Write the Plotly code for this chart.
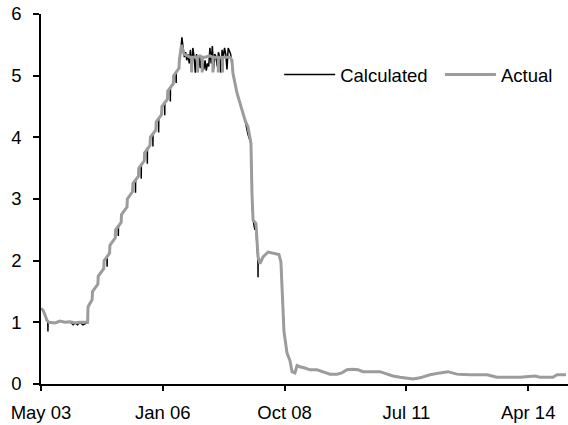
import plotly.graph_objects as go

# ---- data ----
actual_dates = [
    "2003-05-01", "2003-05-17", "2003-06-03", "2003-06-19", "2003-07-06", "2003-08-24",
    "2003-10-04", "2003-11-14", "2003-12-25", "2004-02-04", "2004-03-16", "2004-05-18",
    "2004-05-21", "2004-06-24", "2004-06-27", "2004-08-10", "2004-08-13", "2004-09-27",
    "2004-09-30", "2004-11-14", "2004-11-17", "2004-12-31", "2005-01-03", "2005-02-17",
    "2005-02-20", "2005-04-06", "2005-04-09", "2005-05-22", "2005-05-25", "2005-07-09",
    "2005-07-12", "2005-08-26", "2005-08-29", "2005-10-12", "2005-10-15", "2005-11-29",
    "2005-12-02", "2006-01-15", "2006-01-18", "2006-03-04", "2006-03-07", "2006-04-21",
    "2006-04-24", "2006-06-07", "2006-06-10", "2006-06-28", "2006-07-18", "2006-08-12",
    "2006-09-05", "2006-09-18", "2006-09-19", "2006-09-20", "2006-10-16", "2006-11-06",
    "2006-11-07", "2006-11-08", "2006-11-26", "2006-12-14", "2006-12-15", "2006-12-16",
    "2007-01-06", "2007-02-16", "2007-03-12", "2007-03-13", "2007-03-14", "2007-03-30",
    "2007-04-25", "2007-04-26", "2007-04-27", "2007-05-10", "2007-05-29", "2007-05-30",
    "2007-05-31", "2007-06-20", "2007-07-31", "2007-08-16", "2007-08-24", "2007-09-26",
    "2007-10-21", "2007-12-01", "2007-12-25", "2008-01-19", "2008-01-27", "2008-02-05",
    "2008-02-29", "2008-03-08", "2008-03-17", "2008-04-02", "2008-04-27", "2008-06-07",
    "2008-08-03", "2008-09-05", "2008-09-21", "2008-10-08", "2008-10-16", "2008-11-10",
    "2008-12-04", "2008-12-21", "2009-01-14", "2009-01-31", "2009-02-24", "2009-04-06",
    "2009-05-17", "2009-07-14", "2009-09-01", "2009-10-29", "2009-12-25", "2010-02-04",
    "2010-03-17", "2010-04-27", "2010-06-16", "2010-07-27", "2010-12-13", "2011-02-09",
    "2011-03-30", "2011-05-26", "2011-07-23", "2011-09-10", "2011-11-07", "2012-01-03",
    "2012-01-28", "2012-04-19", "2012-06-23", "2012-09-05", "2012-12-21", "2013-05-10",
    "2013-07-31", "2013-10-21", "2014-02-05", "2014-06-08", "2014-07-19", "2014-11-02",
    "2014-12-05", "2015-02-17",
]
actual_values = [
    1.22, 1.20, 1.12, 1.03, 1.00, 0.99,
    1.02, 1.00, 1.01, 0.99, 1.00, 1.00,
    1.25, 1.37, 1.50, 1.62, 1.75, 1.87,
    2.00, 2.12, 2.25, 2.37, 2.50, 2.62,
    2.75, 2.87, 3.00, 3.12, 3.25, 3.37,
    3.50, 3.62, 3.75, 3.87, 4.00, 4.12,
    4.25, 4.37, 4.50, 4.62, 4.75, 4.87,
    5.00, 5.12, 5.25, 5.50, 5.35, 5.32,
    5.30, 5.30, 5.05, 5.30, 5.30, 5.31,
    5.05, 5.31, 5.32, 5.30, 5.05, 5.30,
    5.30, 5.32, 5.30, 5.05, 5.30, 5.30,
    5.30, 5.05, 5.30, 5.30, 5.30, 5.05,
    5.30, 5.30, 5.30, 5.25, 5.04, 4.72,
    4.55, 4.28, 4.17, 3.90, 3.10, 2.66,
    2.60, 2.22, 2.06, 1.95, 2.06, 2.14,
    2.12, 2.10, 1.98, 1.30, 0.85, 0.50,
    0.38, 0.20, 0.18, 0.30, 0.28, 0.26,
    0.23, 0.23, 0.20, 0.16, 0.16, 0.18,
    0.23, 0.24, 0.23, 0.20, 0.20, 0.16,
    0.13, 0.11, 0.10, 0.08, 0.10, 0.13,
    0.15, 0.18, 0.20, 0.16, 0.15, 0.15,
    0.11, 0.11, 0.11, 0.13, 0.11, 0.11,
    0.15, 0.15,
]

calc_dates = [
    "2003-05-01", "2003-05-17", "2003-06-03", "2003-06-19", "2003-06-26", "2003-06-27",
    "2003-06-28", "2003-07-06", "2003-08-24", "2003-10-04", "2003-11-14", "2003-12-25",
    "2004-01-20", "2004-02-04", "2004-02-25", "2004-03-16", "2004-04-10", "2004-05-18",
    "2004-05-21", "2004-06-24", "2004-06-27", "2004-08-10", "2004-08-13", "2004-09-27",
    "2004-09-30", "2004-10-24", "2004-10-25", "2004-10-26", "2004-11-14", "2004-11-17",
    "2004-12-31", "2005-01-03", "2005-01-24", "2005-01-25", "2005-01-26", "2005-02-17",
    "2005-02-20", "2005-04-06", "2005-04-09", "2005-05-22", "2005-05-25", "2005-06-14",
    "2005-06-15", "2005-06-16", "2005-07-09", "2005-07-12", "2005-07-31", "2005-08-01",
    "2005-08-02", "2005-08-26", "2005-08-29", "2005-09-19", "2005-09-20", "2005-09-21",
    "2005-10-12", "2005-10-15", "2005-11-04", "2005-11-05", "2005-11-06", "2005-11-29",
    "2005-12-02", "2005-12-21", "2005-12-22", "2005-12-23", "2006-01-15", "2006-01-18",
    "2006-02-09", "2006-02-10", "2006-02-11", "2006-03-04", "2006-03-07", "2006-03-27",
    "2006-03-28", "2006-03-29", "2006-04-21", "2006-04-24", "2006-05-14", "2006-05-15",
    "2006-05-16", "2006-06-07", "2006-06-10", "2006-06-28", "2006-07-01", "2006-07-11",
    "2006-07-21", "2006-07-31", "2006-08-10", "2006-08-20", "2006-08-30", "2006-09-09",
    "2006-09-19", "2006-09-29", "2006-10-09", "2006-10-19", "2006-10-29", "2006-11-08",
    "2006-11-18", "2006-11-28", "2006-12-08", "2006-12-18", "2006-12-28", "2007-01-07",
    "2007-01-17", "2007-01-27", "2007-02-06", "2007-02-16", "2007-02-26", "2007-03-08",
    "2007-03-18", "2007-03-28", "2007-04-07", "2007-04-17", "2007-04-27", "2007-05-07",
    "2007-05-17", "2007-05-27", "2007-06-06", "2007-06-16", "2007-06-26", "2007-07-06",
    "2007-07-16", "2007-07-26", "2007-08-05", "2007-08-15", "2007-08-24", "2007-09-26",
    "2007-10-21", "2007-12-01", "2007-12-25", "2008-01-19", "2008-01-27", "2008-02-05",
    "2008-02-20", "2008-02-29", "2008-03-08", "2008-03-16", "2008-03-17", "2008-03-18",
    "2008-04-02", "2008-04-27", "2008-06-07", "2008-08-03", "2008-09-05", "2008-09-21",
    "2008-09-28", "2008-10-08", "2008-10-16", "2008-11-10", "2008-12-04", "2008-12-21",
    "2009-01-14", "2009-01-31", "2009-02-24", "2009-04-06", "2009-05-17", "2009-07-14",
    "2009-09-01", "2009-10-29", "2009-12-25", "2010-02-04", "2010-03-17", "2010-04-27",
    "2010-06-16", "2010-07-27", "2010-12-13", "2011-02-09", "2011-03-30", "2011-05-26",
    "2011-07-23", "2011-09-10", "2011-11-07", "2012-01-03", "2012-01-28", "2012-04-19",
    "2012-06-23", "2012-09-05", "2012-12-21", "2013-05-10", "2013-07-31", "2013-10-21",
    "2014-02-05", "2014-06-08", "2014-07-19", "2014-11-02", "2014-12-05", "2015-02-17",
]
calc_values = [
    1.22, 1.20, 1.12, 1.03, 1.00, 0.85,
    1.00, 1.00, 0.99, 1.02, 1.00, 1.01,
    0.96, 0.99, 0.96, 1.00, 0.96, 1.00,
    1.25, 1.37, 1.50, 1.62, 1.75, 1.87,
    2.00, 2.06, 1.90, 2.06, 2.12, 2.25,
    2.37, 2.50, 2.56, 2.40, 2.56, 2.62,
    2.75, 2.87, 3.00, 3.12, 3.25, 3.31,
    3.10, 3.31, 3.37, 3.50, 3.56, 3.33,
    3.56, 3.62, 3.75, 3.81, 3.57, 3.81,
    3.87, 4.00, 4.06, 3.85, 4.06, 4.12,
    4.25, 4.31, 4.08, 4.31, 4.37, 4.50,
    4.56, 4.36, 4.56, 4.62, 4.75, 4.81,
    4.58, 4.81, 4.87, 5.00, 5.06, 4.88,
    5.06, 5.12, 5.25, 5.55, 5.62, 5.45,
    5.30, 5.38, 5.25, 5.35, 5.20, 5.42,
    5.10, 5.45, 5.30, 5.05, 5.35, 5.15,
    5.30, 5.12, 5.30, 5.20, 5.10, 5.25,
    5.08, 5.20, 5.15, 5.45, 5.20, 5.48,
    5.10, 5.35, 5.30, 5.15, 5.38, 5.30,
    5.05, 5.42, 5.30, 5.45, 5.35, 5.10,
    5.45, 5.40, 5.35, 5.20, 5.04, 4.72,
    4.55, 4.28, 4.05, 3.90, 3.10, 2.66,
    2.50, 2.60, 2.22, 2.06, 1.73, 2.06,
    1.95, 2.06, 2.14, 2.12, 2.10, 1.98,
    1.69, 1.30, 0.85, 0.50, 0.38, 0.20,
    0.18, 0.30, 0.28, 0.26, 0.23, 0.23,
    0.20, 0.16, 0.16, 0.18, 0.23, 0.24,
    0.23, 0.20, 0.20, 0.16, 0.13, 0.11,
    0.10, 0.08, 0.10, 0.13, 0.15, 0.18,
    0.20, 0.16, 0.15, 0.15, 0.11, 0.11,
    0.11, 0.13, 0.11, 0.11, 0.15, 0.15,
]

tick_dates = ["2003-05-01", "2006-01-25", "2008-10-21", "2011-07-18", "2014-04-13"]
tick_labels = ["May 03", "Jan 06", "Oct 08", "Jul 11", "Apr 14"]
y_ticks = [0, 1, 2, 3, 4, 5, 6]

fig = go.Figure()
fig.add_trace(go.Scatter(x=calc_dates, y=calc_values, mode="lines", name="Calculated",
                         line=dict(color="#000000", width=1.5), legend="legend"))
fig.add_trace(go.Scatter(x=actual_dates, y=actual_values, mode="lines", name="Actual",
                         line=dict(color="#9c9c9c", width=3), legend="legend2"))

legend_common = dict(orientation="h", yanchor="middle", xanchor="left",
                     bgcolor="rgba(0,0,0,0)", font=dict(size=18.5), itemwidth=51)

fig.update_layout(
    width=568, height=425,
    margin=dict(l=41, r=0, t=14, b=41, autoexpand=False),
    paper_bgcolor="white", plot_bgcolor="white",
    font=dict(family="Liberation Sans, Arial, sans-serif", size=18.5, color="#000000"),
    showlegend=True,
    legend=dict(x=0.452, y=0.835, **legend_common),
    legend2=dict(x=0.757, y=0.835, **legend_common),
)
fig.update_xaxes(
    type="date", range=["2003-05-01", "2015-03-06"],
    tickmode="array", tickvals=tick_dates, ticktext=tick_labels,
    ticks="outside", ticklen=5, tickwidth=1.5, tickcolor="#000000",
    showline=True, linecolor="#000000", linewidth=1.5, automargin=False,
    showgrid=False, zeroline=False, ticklabelstandoff=6, ticklabeloverflow="allow",
)
fig.update_yaxes(
    range=[0, 6], tickmode="array", tickvals=y_ticks,
    ticks="outside", ticklen=6, tickwidth=1.5, tickcolor="#000000",
    showline=True, linecolor="#000000", linewidth=1.5, automargin=False,
    showgrid=False, zeroline=False, ticklabelstandoff=8, ticklabeloverflow="allow",
)

# remove the page's default 8px body margin so the figure fills the window exactly
fig.write_html("out.html", config={"displayModeBar": False},
               post_script="document.body.style.margin='0';")
